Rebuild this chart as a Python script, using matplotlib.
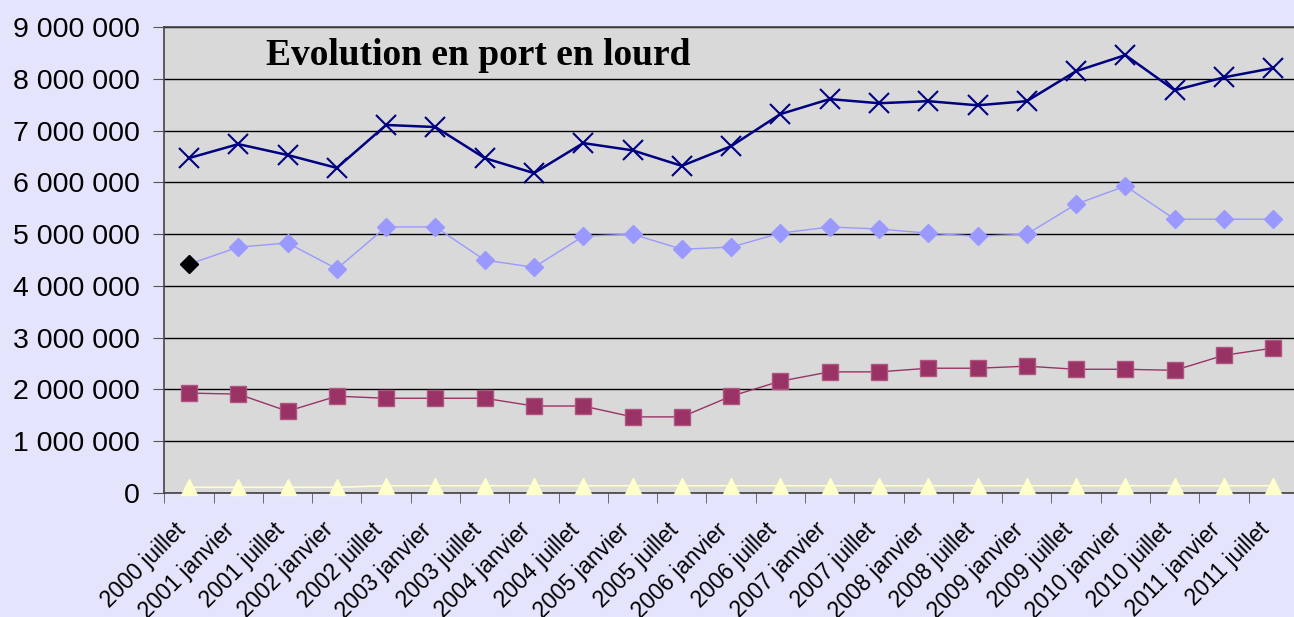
import numpy as np
import matplotlib
matplotlib.use("Agg")
import matplotlib.pyplot as plt
import matplotlib.transforms as mtransforms
from matplotlib.ticker import FuncFormatter, MultipleLocator

periods = [
    "2000 juillet", "2001 janvier", "2001 juillet", "2002 janvier",
    "2002 juillet", "2003 janvier", "2003 juillet", "2004 janvier",
    "2004 juillet", "2005 janvier", "2005 juillet", "2006 janvier",
    "2006 juillet", "2007 janvier", "2007 juillet", "2008 janvier",
    "2008 juillet", "2009 janvier", "2009 juillet", "2010 janvier",
    "2010 juillet", "2011 janvier", "2011 juillet",
]

# values in millions
total = [6.47, 6.74, 6.53, 6.28, 7.11, 7.07, 6.47, 6.18, 6.76, 6.62, 6.32,
         6.70, 7.32, 7.61, 7.53, 7.57, 7.49, 7.57, 8.15, 8.46, 7.78, 8.03, 8.21]
diamonds = [4.42, 4.75, 4.83, 4.33, 5.14, 5.14, 4.50, 4.36, 4.96, 5.00, 4.71,
            4.75, 5.02, 5.14, 5.10, 5.02, 4.96, 5.00, 5.58, 5.93, 5.29, 5.29, 5.29]
squares = [1.93, 1.91, 1.58, 1.87, 1.83, 1.83, 1.83, 1.68, 1.68, 1.47, 1.47,
           1.87, 2.16, 2.34, 2.34, 2.41, 2.41, 2.45, 2.39, 2.39, 2.37, 2.66, 2.80]
triangles = [0.11, 0.11, 0.11, 0.11, 0.14, 0.14, 0.14, 0.14, 0.14, 0.14, 0.14,
             0.14, 0.14, 0.14, 0.14, 0.14, 0.14, 0.14, 0.14, 0.14, 0.14, 0.14, 0.14]

bg = "#E4E4FC"
fig = plt.figure(figsize=(12.94, 6.17), dpi=100, facecolor=bg)
ax = fig.add_axes([0.127, 0.201, 0.876, 0.755])
ax.set_facecolor("#D9D9D9")

x = np.arange(len(periods))
to_val = lambda s: np.array(s) * 1e6

ax.plot(x, to_val(triangles), color="#FFFFCC", lw=1.2, marker="^", ms=11,
        mec="#FFFFCC", mfc="#FFFFCC", zorder=3, clip_on=False)
ax.plot(x, to_val(squares), color="#993366", lw=1, marker="s", ms=11,
        mec="#B0557F", mfc="#993366", zorder=3)
ax.plot(x, to_val(diamonds), color="#9999FF", lw=1, marker="D", ms=9,
        mec="#9999FF", mfc="#9999FF", zorder=3)
ax.plot(x[:1], to_val(diamonds[:1]), ls="none", marker="D", ms=9,
        mec="black", mfc="black", zorder=4)
ax.plot(x, to_val(total), color="#000080", lw=1.8, marker="x", ms=14,
        mew=1.5, zorder=3)

ax.set_xlim(-0.5, len(periods) - 0.5)
ax.set_ylim(0, 9e6)
ax.yaxis.set_major_locator(MultipleLocator(1e6))
ax.yaxis.set_major_formatter(
    FuncFormatter(lambda v, p: f"{int(v):,}".replace(",", " ")))
ax.grid(axis="y", color="black", lw=1)
ax.set_axisbelow(True)

ax.set_xticks(x)
ax.set_xticklabels(periods, rotation=45, ha="right", va="center",
                   rotation_mode="anchor", fontsize=16.5,
                   family="Liberation Sans")
ax.set_xticks(np.arange(len(periods) + 1) - 0.5, minor=True)
ax.tick_params(axis="x", which="major", length=0, pad=24)
ax.tick_params(axis="x", which="minor", length=7, color="#555555")
ax.tick_params(axis="y", length=8, color="#555555", labelsize=20.5, pad=9.5)
for lab in ax.get_yticklabels():
    lab.set_family("Liberation Sans")

# nudge the rotated labels a little to the left
shift = mtransforms.ScaledTranslation(-7 / 100, 0, fig.dpi_scale_trans)
for t in ax.xaxis.get_major_ticks():
    t.label1.set_transform(t.label1.get_transform() + shift)

ax.spines["right"].set_visible(False)
for side in ["left", "top", "bottom"]:
    ax.spines[side].set_color("#444444")
    ax.spines[side].set_linewidth(1.2)

ax.text(0.09, 0.94, "Evolution en port en lourd", transform=ax.transAxes,
        fontsize=27, fontweight="bold", family="Liberation Serif",
        va="center", ha="left")

fig.savefig("out.png", dpi=100, facecolor=bg)
